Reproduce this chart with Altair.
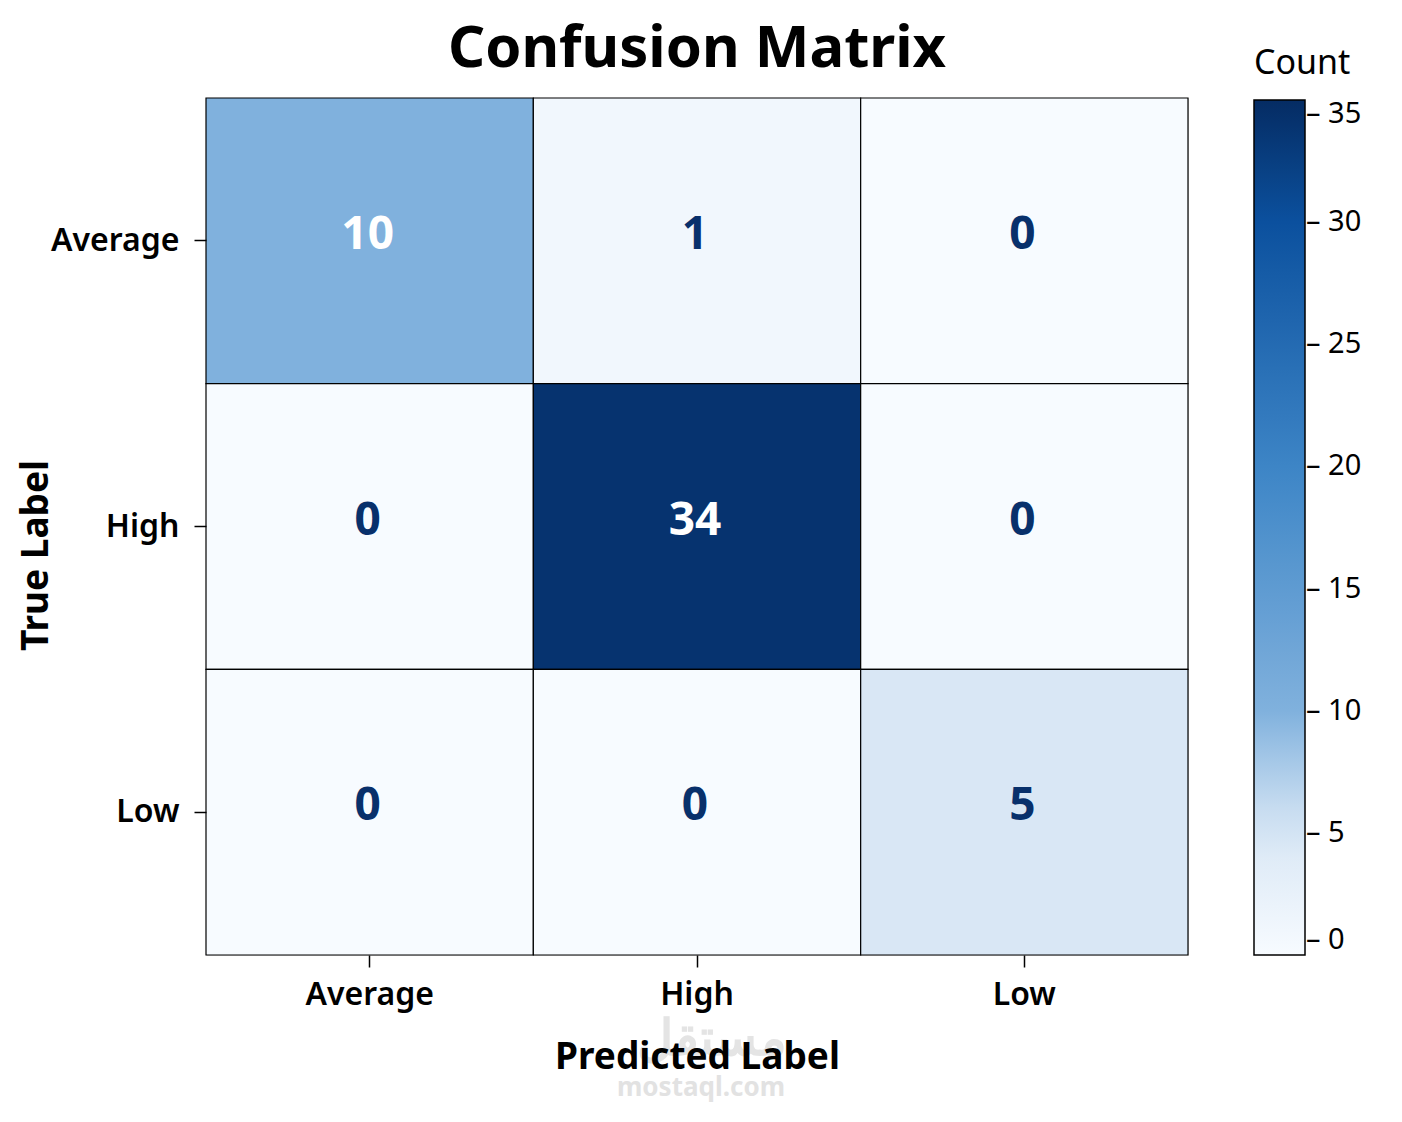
import altair as alt
import pandas as pd

labels = ["Average", "High", "Low"]
true_labels = ["Average", "Average", "Average", "High", "High", "High", "Low", "Low", "Low"]
pred_labels = ["Average", "High", "Low", "Average", "High", "Low", "Average", "High", "Low"]
counts = [10, 1, 0, 0, 34, 0, 0, 0, 5]
legend_ticks = [0, 5, 10, 15, 20, 25, 30, 35]
watermark = ["مستقل", "mostaql.com"]

df = pd.DataFrame({"true": true_labels, "pred": pred_labels, "count": counts})

FONT = "Noto Sans"

color_scale = alt.Scale(
    domain=[0, 5, 10, 20, 30, 35],
    range=["#f7fbff", "#d9e7f5", "#80b1dd", "#3d85c6", "#0b509e", "#052c63"],
    interpolate="rgb",
)

base = alt.Chart(df)

rects = base.mark_rect(stroke="black", strokeWidth=1.2).encode(
    x=alt.X("pred:N", sort=labels, title="Predicted Label",
            axis=alt.Axis(labelAngle=0, labelFontSize=32, labelFontWeight=600,
                          labelColor="black", tickSize=12, tickColor="black",
                          tickWidth=1.5, domain=False, labelPadding=12,
                          titleFontSize=37, titleFontWeight="bold", titleColor="black",
                          titlePadding=29, labelFont=FONT, titleFont=FONT)),
    y=alt.Y("true:N", sort=labels, title="True Label",
            axis=alt.Axis(labelFontSize=32, labelFontWeight=600, labelColor="black",
                          tickSize=12, tickColor="black", tickWidth=1.5, domain=False,
                          labelPadding=15, titleFontSize=37, titleFontWeight="bold",
                          titleColor="black", titleX=-151, titleY=457,
                          labelFont=FONT, titleFont=FONT)),
    color=alt.Color("count:Q", scale=color_scale, title="Count",
                    legend=alt.Legend(orient="none", legendX=1048, legendY=-51,
                                      direction="vertical", gradientLength=855,
                                      gradientThickness=51, gradientStrokeColor="black",
                                      gradientStrokeWidth=1.5, values=legend_ticks,
                                      labelExpr="'– ' + datum.label",
                                      labelBaseline="middle",
                                      labelFontSize=29, labelFont=FONT, labelColor="black",
                                      labelOffset=1, titleFontSize=34, titleFont=FONT,
                                      titleFontWeight="normal", titleColor="black",
                                      titlePadding=19, labelOverlap=False)),
)

texts = base.mark_text(fontSize=46, fontWeight="bold", font=FONT, dy=-6, dx=-2).encode(
    x=alt.X("pred:N", sort=labels),
    y=alt.Y("true:N", sort=labels),
    text=alt.Text("count:Q"),
    color=alt.condition(alt.datum["count"] > 8, alt.value("white"), alt.value("#08306b")),
)

wm_df = pd.DataFrame({"t": watermark})
wm1 = alt.Chart(wm_df).transform_filter(alt.datum.t == watermark[0]).mark_text(
    fontSize=50, fontWeight="bold", color="#e4e4e4", font=FONT
).encode(x=alt.value(712 - 206), y=alt.value(1040 - 98), text="t:N")
wm2 = alt.Chart(wm_df).transform_filter(alt.datum.t == watermark[1]).mark_text(
    fontSize=26, fontWeight="bold", color="#e2e2e2", font=FONT
).encode(x=alt.value(701 - 206), y=alt.value(1088 - 98), text="t:N")

chart = alt.layer(wm1, wm2, rects, texts).properties(
    width=982,
    height=857,
    title=alt.TitleParams("Confusion Matrix", fontSize=58, fontWeight="bold", font=FONT,
                          color="black", anchor="middle", offset=18, dy=50),
    padding={"left": 198, "top": 90, "right": 200, "bottom": 150},
    autosize=alt.AutoSizeParams(type="none"),
).configure_view(stroke="black", strokeWidth=1.5).configure(background="white")

chart.save("out.html", embed_options={"renderer": "svg", "actions": False})
